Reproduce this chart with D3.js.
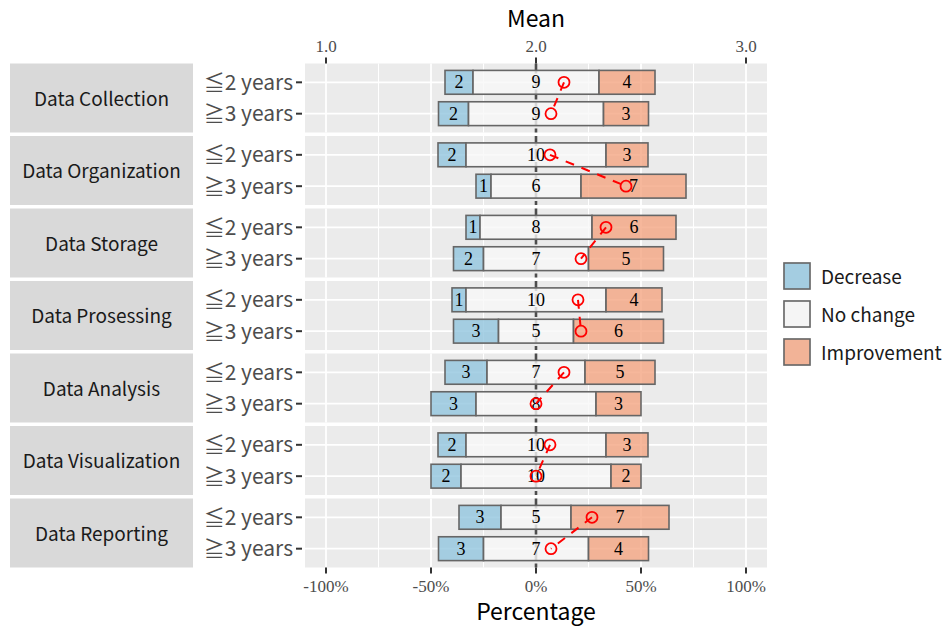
<!DOCTYPE html>
<html>
<head>
<meta charset="utf-8">
<script src="https://cdn.jsdelivr.net/npm/d3@7"></script>
<style>
  body { margin: 0; background: #fff; }
  svg text { font-family: "Noto Sans CJK JP", "Noto Sans", sans-serif; }
</style>
</head>
<body>
<div id="chart"></div>
<script>
// facets (top to bottom) and rows inside each facet
const stages = ["Data Collection", "Data Organization", "Data Storage", "Data Prosessing",
                "Data Analysis", "Data Visualization", "Data Reporting"];
const groups = ["≦2 years", "≧3 years"];
const levels = ["Decrease", "No change", "Improvement"];

// counts per stage: [≦2 years, ≧3 years]
const decrease    = [[2, 2], [2, 1], [1, 2], [1, 3], [3, 3], [2, 2], [3, 3]];
const noChange    = [[9, 9], [10, 6], [8, 7], [10, 5], [7, 8], [10, 10], [5, 7]];
const improvement = [[4, 3], [3, 7], [6, 5], [4, 6], [5, 3], [3, 2], [7, 4]];

const pctTicks = [-1, -0.5, 0, 0.5, 1];
const meanTicks = [1, 2, 3];

const colors = { "Decrease": "#92c5de", "No change": "#f7f7f7", "Improvement": "#f4a582" };

const W = 945, H = 631;
const panelLeft = 305, panelRight = 767;
const panelTop = 63.5, panelH = 69, panelGap = 3.5;

const svg = d3.select("#chart").append("svg")
    .attr("width", W).attr("height", H);

const x = d3.scaleLinear().domain([-1.1, 1.1]).range([panelLeft, panelRight]);
const xMean = d3.scaleLinear().domain([0.9, 3.1]).range([panelLeft, panelRight]);
const y = d3.scalePoint().domain(groups).range([0, panelH]).padding(0.6);
const barH = y.step() * 0.76;

// build rows
const rows = [];
stages.forEach((s, i) => {
    groups.forEach((g, j) => {
        const d = decrease[i][j], n = noChange[i][j], im = improvement[i][j];
        const tot = d + n + im;
        let acc = -(n / tot) / 2 - d / tot;
        const segs = [[levels[0], d], [levels[1], n], [levels[2], im]].map(([lv, c]) => {
            const seg = { level: lv, count: c, x0: acc, x1: acc + c / tot };
            acc += c / tot;
            return seg;
        });
        rows.push({ stage: s, group: g, segs, mean: (d * 1 + n * 2 + im * 3) / tot });
    });
});

const panels = svg.selectAll("g.panel").data(stages).join("g")
    .attr("class", "panel")
    .attr("transform", (d, i) => `translate(0,${panelTop + i * (panelH + panelGap)})`);

// panel background
panels.append("rect")
    .attr("x", panelLeft).attr("y", 0)
    .attr("width", panelRight - panelLeft).attr("height", panelH)
    .attr("fill", "#ebebeb");

// grid
panels.each(function () {
    const g = d3.select(this);
    g.selectAll("line.minor").data([-0.75, -0.25, 0.25, 0.75]).join("line")
        .attr("x1", d => x(d)).attr("x2", d => x(d))
        .attr("y1", 0).attr("y2", panelH)
        .attr("stroke", "#fff").attr("stroke-width", 1);
    g.selectAll("line.major").data(pctTicks.filter(t => t !== 0)).join("line")
        .attr("x1", d => x(d)).attr("x2", d => x(d))
        .attr("y1", 0).attr("y2", panelH)
        .attr("stroke", "#fff").attr("stroke-width", 1.8);
    g.selectAll("line.hmaj").data(groups).join("line")
        .attr("x1", panelLeft).attr("x2", panelRight)
        .attr("y1", d => y(d)).attr("y2", d => y(d))
        .attr("stroke", "#fff").attr("stroke-width", 1.8);
    // zero reference line
    g.append("line")
        .attr("x1", x(0)).attr("x2", x(0))
        .attr("y1", 0).attr("y2", panelH)
        .attr("stroke", "#4d4d4d").attr("stroke-width", 2.6)
        .attr("stroke-dasharray", "10,3");
});

// strips
panels.append("rect")
    .attr("x", 10).attr("y", 0).attr("width", 183).attr("height", panelH)
    .attr("fill", "#d9d9d9");
panels.append("text")
    .attr("x", 101.5).attr("y", panelH / 2 - 1)
    .attr("text-anchor", "middle").attr("dominant-baseline", "central")
    .attr("font-size", 19).attr("fill", "#1a1a1a")
    .text(d => d);

// y axis labels + ticks
panels.each(function () {
    const g = d3.select(this);
    g.selectAll("text.ylab").data(groups).join("text")
        .attr("x", 293).attr("y", d => y(d) - 1.5)
        .attr("text-anchor", "end").attr("dominant-baseline", "central")
        .attr("font-size", 21).attr("fill", "#4d4d4d")
        .text(d => d);
    g.selectAll("line.ytick").data(groups).join("line")
        .attr("x1", 296).attr("x2", 302)
        .attr("y1", d => y(d)).attr("y2", d => y(d))
        .attr("stroke", "#333").attr("stroke-width", 2);
});

// bars
panels.each(function (stage) {
    const g = d3.select(this);
    const data = rows.filter(r => r.stage === stage);
    const rg = g.selectAll("g.row").data(data).join("g")
        .attr("transform", d => `translate(0,${y(d.group)})`);
    const seg = rg.selectAll("g.seg").data(d => d.segs).join("g");
    seg.append("rect")
        .attr("x", d => x(d.x0)).attr("width", d => x(d.x1) - x(d.x0))
        .attr("y", -barH / 2).attr("height", barH)
        .attr("fill", d => colors[d.level]).attr("fill-opacity", 0.8)
        .attr("stroke", "#666").attr("stroke-width", 1.6);
    seg.append("text")
        .attr("x", d => (x(d.x0) + x(d.x1)) / 2).attr("y", 0)
        .attr("text-anchor", "middle").attr("dominant-baseline", "central")
        .style("font-family", "'Liberation Serif', serif")
        .attr("font-size", 18).attr("fill", "#000")
        .text(d => d.count);

    // mean path and points
    const line = d3.line().x(d => xMean(d.mean)).y(d => y(d.group));
    g.append("path")
        .datum(data)
        .attr("d", line)
        .attr("fill", "none").attr("stroke", "red")
        .attr("stroke-width", 2).attr("stroke-dasharray", "9,8");
    g.selectAll("circle.mean").data(data).join("circle")
        .attr("cx", d => xMean(d.mean)).attr("cy", d => y(d.group))
        .attr("r", 5.5)
        .attr("fill", "none").attr("stroke", "red").attr("stroke-width", 1.8);
});

const panelBottom = panelTop + stages.length * panelH + (stages.length - 1) * panelGap;
const pctFormat = d => (d * 100).toFixed(0) + "%";

// bottom axis
const bottomAxis = svg.append("g");
bottomAxis.selectAll("line").data(pctTicks).join("line")
    .attr("x1", d => x(d)).attr("x2", d => x(d))
    .attr("y1", panelBottom).attr("y2", panelBottom + 6)
    .attr("stroke", "#333").attr("stroke-width", 2);
bottomAxis.selectAll("text").data(pctTicks).join("text")
    .attr("x", d => x(d)).attr("y", panelBottom + 24)
    .attr("text-anchor", "middle")
    .style("font-family", "'Liberation Serif', serif")
    .attr("font-size", 17).attr("fill", "#4d4d4d")
    .text(pctFormat);
svg.append("text")
    .attr("x", x(0)).attr("y", 620)
    .attr("text-anchor", "middle")
    .attr("font-size", 23).attr("fill", "#000")
    .text("Percentage");

// top axis
const topAxis = svg.append("g");
topAxis.selectAll("line").data(meanTicks).join("line")
    .attr("x1", d => xMean(d)).attr("x2", d => xMean(d))
    .attr("y1", panelTop - 6).attr("y2", panelTop)
    .attr("stroke", "#333").attr("stroke-width", 2);
topAxis.selectAll("text").data(meanTicks).join("text")
    .attr("x", d => xMean(d)).attr("y", panelTop - 12)
    .attr("text-anchor", "middle")
    .style("font-family", "'Liberation Serif', serif")
    .attr("font-size", 17).attr("fill", "#4d4d4d")
    .text(d => d3.format(".1f")(d));
svg.append("text")
    .attr("x", x(0)).attr("y", 27)
    .attr("text-anchor", "middle")
    .attr("font-size", 23).attr("fill", "#000")
    .text("Mean");

// legend
const legend = svg.append("g").attr("transform", "translate(783,262)");
const li = legend.selectAll("g").data(levels).join("g")
    .attr("transform", (d, i) => `translate(0,${i * 38})`);
li.append("rect")
    .attr("x", 0).attr("y", 0).attr("width", 28).attr("height", 28)
    .attr("fill", "#ebebeb");
li.append("rect")
    .attr("x", 1).attr("y", 1).attr("width", 26).attr("height", 26)
    .attr("fill", d => colors[d]).attr("fill-opacity", 0.8)
    .attr("stroke", "#666").attr("stroke-width", 1.6);
li.append("text")
    .attr("x", 38).attr("y", 13)
    .attr("dominant-baseline", "central")
    .attr("font-size", 19).attr("fill", "#1a1a1a")
    .text(d => d);
</script>
</body>
</html>
